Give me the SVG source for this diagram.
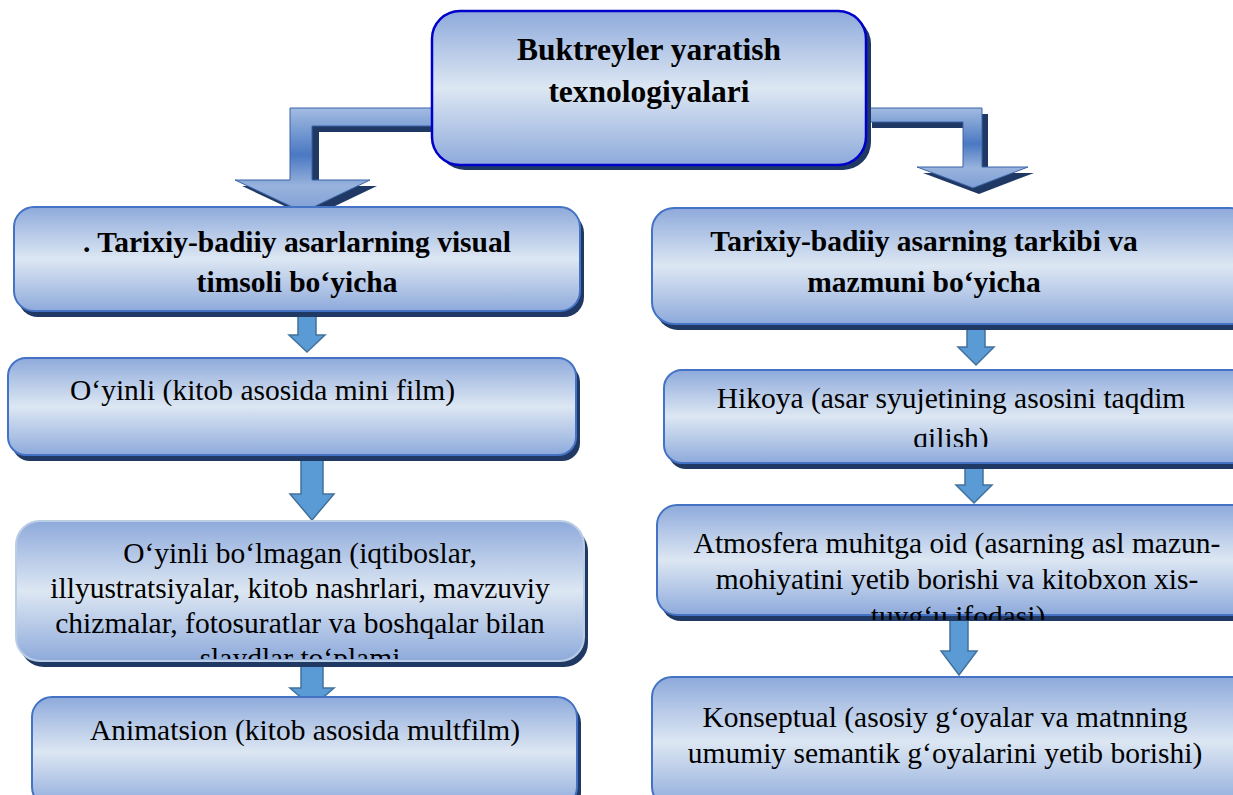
<svg xmlns="http://www.w3.org/2000/svg" width="1233" height="795" viewBox="0 0 1233 795">
<defs>
<linearGradient id="boxg" x1="0" y1="0" x2="0" y2="1">
<stop offset="0" stop-color="#8EAADB"/>
<stop offset="0.5" stop-color="#DDE7F3"/>
<stop offset="1" stop-color="#8EAADB"/>
</linearGradient>
<linearGradient id="arrg" x1="0" y1="0" x2="0" y2="1">
<stop offset="0" stop-color="#A3BCE2"/>
<stop offset="0.45" stop-color="#4A78C2"/>
<stop offset="0.75" stop-color="#98B3DD"/>
<stop offset="1" stop-color="#7E9ED4"/>
</linearGradient>
<clipPath id="cL3"><rect x="16" y="521" width="568" height="138"/></clipPath>
<clipPath id="cR2"><rect x="664" y="370" width="569" height="77"/></clipPath>
<clipPath id="cR3"><rect x="657" y="505" width="576" height="115"/></clipPath>
</defs>
<style>
.box{fill:url(#boxg);stroke:#4472C4;stroke-width:2}
.shd{fill:#203864}
.hdr{fill:url(#boxg);stroke:#0000CC;stroke-width:2.5}
.b{font-family:"Liberation Serif","Times New Roman",serif;font-weight:bold;fill:#000}
.r{font-family:"Liberation Serif","Times New Roman",serif;fill:#000}
.sa{fill:#5B9BD5;stroke:#41719C;stroke-width:1.5}
.ba{fill:url(#arrg);stroke:#3A63A8;stroke-width:1}
</style>

<g id="connectors">
<path class="shd" d="M440,114 H297 V186 H242 L310,218 L377,186 H319 V132 H440 Z"/>
<path class="ba" d="M433,108 H290 V180 H235 L303,212 L370,180 H312 V126 H433 Z"/>
<path class="shd" d="M872,114 H988 V173 H1034 L979,194 L923,173 H969 V128 H872 Z"/>
<path class="ba" d="M866,108 H982 V167 H1028 L973,188 L917,167 H963 V122 H866 Z"/>
<path class="sa" d="M298,312 H316 V335 H325 L307,352 L289,335 H298 Z"/>
<path class="sa" d="M301,457 H323 V494 H334 L312,520 L290,494 H301 Z"/>
<path class="sa" d="M301,662 H323 V688 H334 L312,707 L290,688 H301 Z"/>
<path class="sa" d="M967,326 H985 V347 H994 L976,365 L958,347 H967 Z"/>
<path class="sa" d="M965,464 H983 V485 H992 L974,503 L956,485 H965 Z"/>
<path class="sa" d="M950,619 H968 V651 H977 L959,675 L941,651 H950 Z"/>
</g>

<g id="n-header">
<rect class="shd" x="437" y="16" width="434" height="154" rx="28"/>
<rect class="hdr" x="432" y="11" width="434" height="154" rx="28"/>
<text class="b" font-size="31.5" text-anchor="middle" x="649" y="60">Buktreyler yaratish</text>
<text class="b" font-size="31.5" text-anchor="middle" x="649" y="102">texnologiyalari</text>
</g>

<g id="n-left1">
<rect class="shd" x="18" y="213" width="566" height="104" rx="20"/>
<rect class="box" x="14" y="207" width="566" height="104" rx="20"/>
<text class="b" font-size="29.5" text-anchor="middle" x="297" y="252">. Tarixiy-badiiy asarlarning visual</text>
<text class="b" font-size="29.5" text-anchor="middle" x="297" y="292">timsoli bo‘yicha</text>
</g>

<g id="n-left2">
<rect class="shd" x="12" y="364" width="568" height="97" rx="18"/>
<rect class="box" x="8" y="358" width="568" height="97" rx="18"/>
<text class="r" font-size="29.5" x="70" y="400">O‘yinli (kitob asosida mini film)</text>
</g>

<g id="n-left3">
<rect class="shd" x="20" y="527" width="568" height="140" rx="24"/>
<rect class="box" x="16" y="521" width="568" height="140" rx="24" style="stroke:#B9CDE5"/>
<g clip-path="url(#cL3)">
<text class="r" font-size="29.5" text-anchor="middle" x="300" y="563">O‘yinli bo‘lmagan (iqtiboslar,</text>
<text class="r" font-size="29.5" text-anchor="middle" x="300" y="598">illyustratsiyalar, kitob nashrlari, mavzuviy</text>
<text class="r" font-size="29.5" text-anchor="middle" x="300" y="633">chizmalar, fotosuratlar va boshqalar bilan</text>
<text class="r" font-size="29.5" text-anchor="middle" x="300" y="668">slaydlar to‘plami</text>
</g>
</g>

<g id="n-left4">
<rect class="shd" x="36" y="703" width="545" height="110" rx="20"/>
<rect class="box" x="32" y="697" width="545" height="110" rx="20"/>
<text class="r" font-size="29.5" text-anchor="middle" x="305" y="740">Animatsion (kitob asosida multfilm)</text>
</g>

<g id="n-right1">
<rect class="shd" x="656" y="214" width="600" height="116" rx="22"/>
<rect class="box" x="652" y="208" width="600" height="116" rx="22"/>
<text class="b" font-size="29.5" text-anchor="middle" x="924" y="251">Tarixiy-badiiy asarning tarkibi va</text>
<text class="b" font-size="29.5" text-anchor="middle" x="924" y="292">mazmuni bo‘yicha</text>
</g>

<g id="n-right2">
<rect class="shd" x="668" y="376" width="600" height="93" rx="18"/>
<rect class="box" x="664" y="370" width="600" height="93" rx="18"/>
<g clip-path="url(#cR2)">
<text class="r" font-size="29.5" text-anchor="middle" x="951" y="408">Hikoya (asar syujetining asosini taqdim</text>
<text class="r" font-size="29.5" text-anchor="middle" x="951" y="448">qilish)</text>
</g>
</g>

<g id="n-right3">
<rect class="shd" x="661" y="511" width="600" height="110" rx="20"/>
<rect class="box" x="657" y="505" width="600" height="110" rx="20"/>
<g clip-path="url(#cR3)">
<text class="r" font-size="29.5" text-anchor="middle" x="957" y="553">Atmosfera muhitga oid (asarning asl mazun-</text>
<text class="r" font-size="29.5" text-anchor="middle" x="957" y="589">mohiyatini yetib borishi va kitobxon xis-</text>
<text class="r" font-size="29.5" text-anchor="middle" x="958" y="626">tuyg‘u ifodasi)</text>
</g>
</g>

<g id="n-right4">
<rect class="shd" x="656" y="683" width="600" height="130" rx="20"/>
<rect class="box" x="652" y="677" width="600" height="130" rx="20"/>
<text class="r" font-size="29.5" text-anchor="middle" x="945" y="727">Konseptual (asosiy g‘oyalar va matnning</text>
<text class="r" font-size="29.5" text-anchor="middle" x="945" y="763">umumiy semantik g‘oyalarini yetib borishi)</text>
</g>
</svg>
